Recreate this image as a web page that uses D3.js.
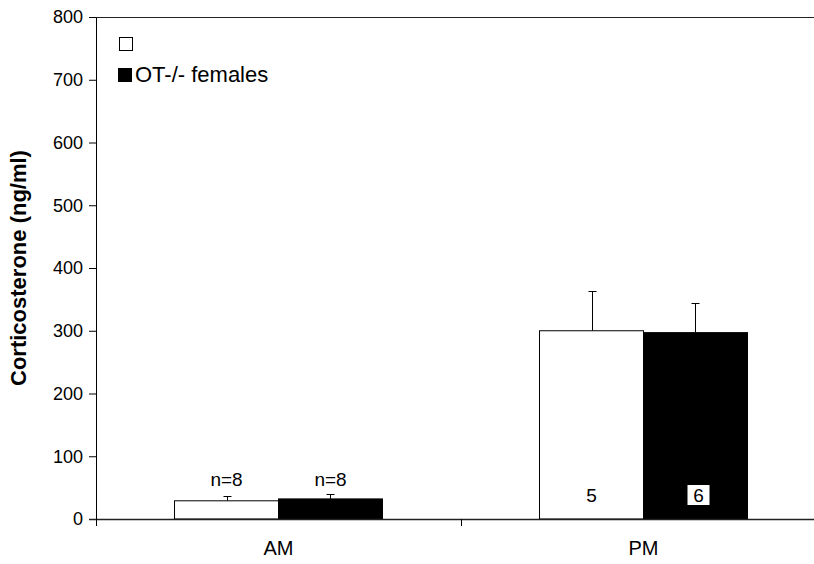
<!DOCTYPE html>
<html>
<head>
<meta charset="utf-8">
<script src="https://cdn.jsdelivr.net/npm/d3@7"></script>
<style>
  body { margin: 0; background: #fff; }
  text { font-family: "Liberation Sans", Arial, sans-serif; }
</style>
</head>
<body>
<script>
// data
const periods = ['AM', 'PM'];
const groups = ['', 'OT-/- females'];
const groupFill = ['#ffffff', '#000000'];
const meanWild = [29, 300];
const meanKnockout = [32, 297];
const semWild = [7, 63];
const semKnockout = [8, 47];
const countWild = ['n=8', '5'];
const countKnockout = ['n=8', '6'];
const yTicks = [0, 100, 200, 300, 400, 500, 600, 700, 800];

const width = 814;
const height = 564;
const plotLeft = 96, plotTop = 17, plotBottom = 519, plotRight = 826;

const svg = d3.select('body').append('svg')
    .attr('width', width)
    .attr('height', height);

const xScale = d3.scaleBand()
    .domain(periods)
    .range([plotLeft, plotRight]);

const xInner = d3.scaleBand()
    .domain([0, 1])
    .range([0, xScale.bandwidth()])
    .paddingOuter(0.755);

const yScale = d3.scaleLinear()
    .domain([0, 800])
    .range([plotBottom, plotTop]);

const rows = [];
periods.forEach(function (p, i) {
    rows.push({ period: p, g: 0, mean: meanWild[i], sem: semWild[i], n: countWild[i], i: i });
    rows.push({ period: p, g: 1, mean: meanKnockout[i], sem: semKnockout[i], n: countKnockout[i], i: i });
});

// top frame line
svg.append('line')
    .attr('x1', plotLeft).attr('x2', width)
    .attr('y1', plotTop + 0.5).attr('y2', plotTop + 0.5)
    .attr('stroke', '#222');

// error bars (drawn first, bars cover the lower half)
const bw = xInner.bandwidth();
svg.selectAll('.err')
    .data(rows)
    .enter()
    .append('path')
    .attr('fill', 'none')
    .attr('stroke', '#000')
    .attr('d', function (d) {
        const cx = Math.round(xScale(d.period) + xInner(d.g) + bw / 2) + 0.5;
        const y1 = yScale(d.mean);
        const y2 = Math.round(yScale(d.mean + d.sem)) + 0.5;
        return `M${cx},${y1}V${y2}M${cx - 4},${y2}H${cx + 4}`;
    });

// the bars
svg.selectAll('.bar')
    .data(rows)
    .enter()
    .append('rect')
    .attr('x', (d) => xScale(d.period) + xInner(d.g))
    .attr('y', (d) => yScale(d.mean))
    .attr('width', bw)
    .attr('height', (d) => yScale(0) - yScale(d.mean))
    .attr('fill', (d) => groupFill[d.g])
    .attr('stroke', '#000')
    .attr('stroke-width', 1);

// counts: above small bars, inside tall bars
rows.forEach(function (d) {
    const cx = xScale(d.period) + xInner(d.g) + bw / 2;
    const inside = d.mean > 100;
    const topVal = Math.max(meanWild[d.i] + semWild[d.i], meanKnockout[d.i] + semKnockout[d.i]);
    if (inside && d.g == 1) {
        svg.append('rect')
            .attr('x', cx - 8).attr('y', 485)
            .attr('width', 22).attr('height', 20)
            .attr('fill', '#fff');
    }
    svg.append('text')
        .attr('x', inside && d.g == 1 ? cx + 3 : cx)
        .attr('y', inside ? 502 : yScale(topVal) - 8)
        .attr('text-anchor', 'middle')
        .attr('font-size', '19px')
        .attr('fill', '#000')
        .text(d.n);
});

// y axis
const yAxis = svg.append('g')
    .attr('transform', `translate(${plotLeft}, 0)`)
    .call(d3.axisLeft(yScale).tickValues(yTicks).tickSize(7).tickPadding(6).tickSizeOuter(0));
yAxis.selectAll('text').attr('font-size', '18px').attr('fill', '#000')
    .attr('font-family', '"Liberation Sans", Arial, sans-serif');
yAxis.selectAll('line, path').attr('stroke', '#000');

// x axis: ticks at category borders
svg.append('line')
    .attr('x1', plotLeft - 7).attr('x2', width)
    .attr('y1', plotBottom + 0.5).attr('y2', plotBottom + 0.5)
    .attr('stroke', '#222').attr('stroke-width', 1.5);
svg.selectAll('.xtick')
    .data(periods)
    .enter()
    .append('line')
    .attr('x1', (d) => Math.round(xScale(d)) + 0.5)
    .attr('x2', (d) => Math.round(xScale(d)) + 0.5)
    .attr('y1', plotBottom).attr('y2', plotBottom + 7)
    .attr('stroke', '#000');
svg.selectAll('.xlabel')
    .data(periods)
    .enter()
    .append('text')
    .attr('x', (d) => xScale(d) + xScale.bandwidth() / 2)
    .attr('y', 555)
    .attr('text-anchor', 'middle')
    .attr('font-size', '20px')
    .text((d) => d);

// y title
svg.append('text')
    .attr('transform', 'translate(26, 268) rotate(-90)')
    .attr('text-anchor', 'middle')
    .attr('font-size', '22px')
    .attr('font-weight', 'bold')
    .text('Corticosterone (ng/ml)');

// legend
const legend = svg.selectAll('.legend')
    .data(groups)
    .enter()
    .append('g')
    .attr('transform', (d, i) => `translate(${119 - i}, ${37 + i * 31})`);
legend.append('rect')
    .attr('x', 0.5).attr('y', 0.5)
    .attr('width', 13).attr('height', 13)
    .attr('fill', (d, i) => groupFill[i])
    .attr('stroke', '#000');
legend.append('text')
    .attr('x', 17).attr('y', 14)
    .attr('font-size', '22px')
    .text((d) => d);
</script>
</body>
</html>
